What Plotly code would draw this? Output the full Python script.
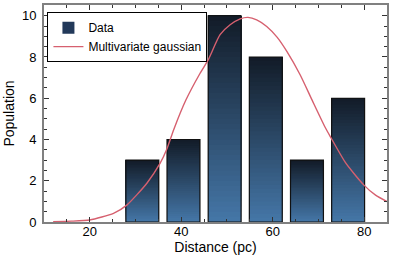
import plotly.graph_objects as go
import numpy as np

# Data
bin_centers = [31.5, 40.5, 49.5, 58.5, 67.5, 76.5]
counts = [3, 4, 10, 8, 3, 6]
bar_width = 7.2

curve_x = [12, 16, 20, 25.2, 28.1, 32.5, 35.4, 36.8, 38.4, 41, 44.1, 45.9, 48.5, 50.7,
           52.9, 54.6, 56.5, 58.7, 61, 63.1, 66, 68.6, 71.5, 72.6, 76, 79.9, 82.5, 85]
curve_y = [0.02, 0.04, 0.1, 0.42, 0.82, 1.88, 2.85, 3.5, 4.5, 5.9, 7.2, 7.86, 9.08, 9.56,
           9.85, 9.92, 9.8, 9.48, 8.95, 8.27, 7.14, 5.92, 4.58, 4.14, 2.85, 1.8, 1.3, 0.99]

top_rgb = np.array([0x12, 0x1b, 0x27])
bot_rgb = np.array([0x45, 0x77, 0xa8])

fig = go.Figure()
N = 40
cnt = np.array(counts, dtype=float)
for i in range(N):
    t = (i + 0.5) / N  # 0 bottom -> 1 top
    c = bot_rgb + (top_rgb - bot_rgb) * t
    col = "rgb(%d,%d,%d)" % tuple(np.round(c).astype(int))
    fig.add_trace(go.Bar(
        x=bin_centers, y=cnt * (N - i) / N, base=cnt * i / N, width=bar_width,
        marker=dict(color=col, line=dict(width=0)),
        showlegend=False, hoverinfo="skip"))

# outline
fig.add_trace(go.Bar(
    x=bin_centers, y=counts, base=[0] * len(counts), width=bar_width,
    marker=dict(color="rgba(0,0,0,0)", line=dict(color="#111111", width=1.2)),
    showlegend=False, hoverinfo="skip"))
# legend proxy
fig.add_trace(go.Bar(
    x=[None], y=[None], name="Data",
    marker=dict(color="#22395a", line=dict(width=0))))

fig.add_trace(go.Scatter(
    x=curve_x, y=curve_y, mode="lines", name="Multivariate gaussian",
    line=dict(color="#d6606f", width=1.4, shape="spline", smoothing=0.6)))

axis_common = dict(
    showline=True, linecolor="#808080", linewidth=2, mirror="ticks",
    ticks="inside", ticklen=5, tickwidth=1, tickcolor="#333333",
    showgrid=False, zeroline=False, automargin=False,
    tickfont=dict(size=13, color="#000000"),
)
fig.update_xaxes(range=[10, 85], tickvals=[20, 40, 60, 80], ticklabelstandoff=-4,
                 minor=dict(dtick=5, tick0=0, ticks="inside", ticklen=3, tickcolor="#333333"),
                 title=dict(text="Distance (pc)", font=dict(size=14, color="#000"), standoff=0),
                 **axis_common)
fig.update_yaxes(range=[0, 10.52], tickvals=[0, 2, 4, 6, 8, 10], ticklabelstandoff=3,
                 minor=dict(dtick=0.5, tick0=0, ticks="inside", ticklen=3, tickcolor="#333333"),
                 title=dict(text="Population", font=dict(size=14, color="#000"), standoff=4),
                 **axis_common)

fig.update_layout(
    width=399, height=255,
    margin=dict(l=44, r=12, t=5, b=33),
    barmode="overlay",
    plot_bgcolor="white", paper_bgcolor="white",
    font=dict(family="Liberation Sans, Arial, sans-serif", size=12, color="#000"),
    legend=dict(x=0.01, y=0.967, xanchor="left", yanchor="top",
                bgcolor="white", bordercolor="#000000", borderwidth=1,
                font=dict(size=12), itemwidth=30, tracegroupgap=0),
)

fig.write_html("out.html", config={"displayModeBar": False},
               post_script="document.body.style.margin='0';document.body.style.overflow='hidden';")
